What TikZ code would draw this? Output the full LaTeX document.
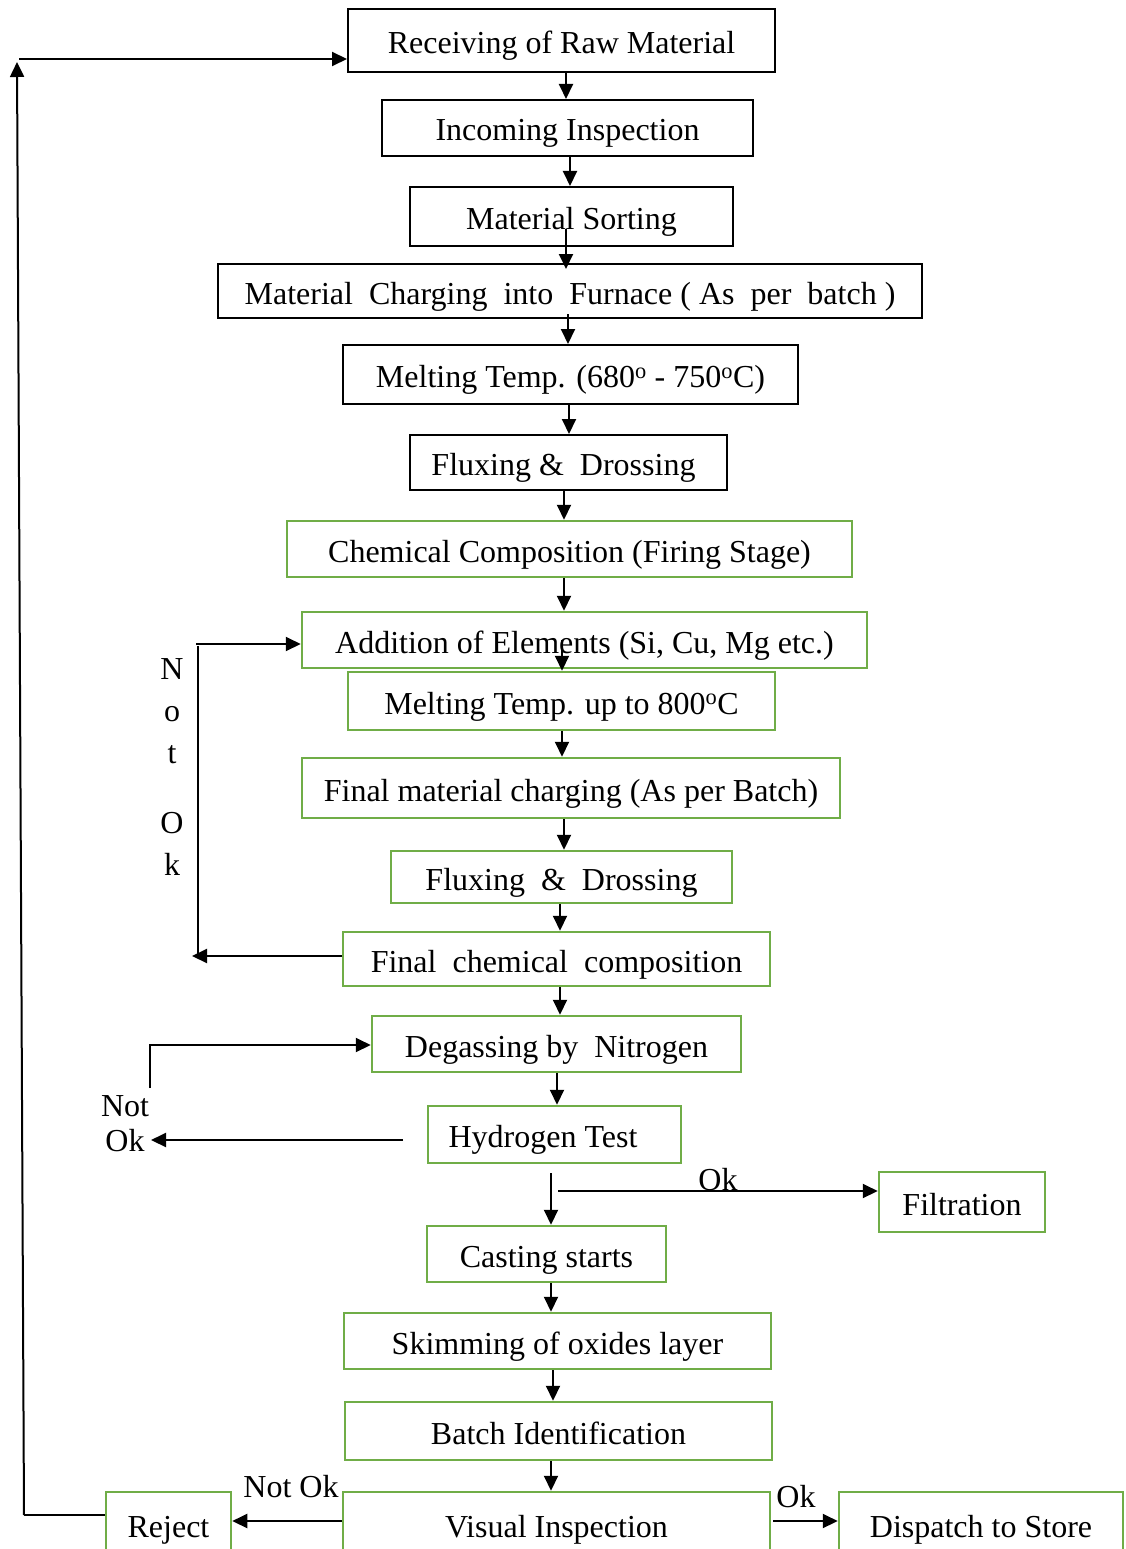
\documentclass[tikz,border=0pt]{standalone}
\usepackage{fontspec}
\setmainfont{Liberation Serif}
\usetikzlibrary{arrows.meta,calc}
\definecolor{boxgreen}{HTML}{70AD47}
\tikzset{
  base/.style={rectangle, inner sep=0pt, text height=30pt, text depth=4pt,
    font=\fontsize{32}{38}\selectfont},
  bk/.style={base, draw=black, line width=2pt},
  gr/.style={base, draw=boxgreen, line width=2.5pt},
  lbl/.style={inner sep=0pt, font=\fontsize{32}{38}\selectfont},
  arr/.style={line width=2pt, -{Triangle[length=15pt,width=14pt]}},
  ln/.style={line width=2pt}
}
\begin{document}
\begin{tikzpicture}[x=1pt,y=-1pt]
\useasboundingbox (0,0) rectangle (1125,1549);
% boxes
\node[bk, minimum width=427pt, minimum height=63pt] (recv) at (561.5,40.5) {Receiving of Raw Material};
\node[bk, minimum width=371pt, minimum height=56pt] (inc) at (567.5,128) {Incoming Inspection};
\node[bk, minimum width=323pt, minimum height=59pt] (sort) at (571.5,216.5) {Material Sorting};
\node[bk, minimum width=704pt, minimum height=54pt] (charge) at (570,291) {Material\ \ Charging\ \ into\ \ Furnace ( As\ \ per\ \ batch )};
\node[bk, minimum width=455pt, minimum height=59pt] (melt1) at (570.5,374.5) {Melting Temp. (680\textsuperscript{o} - 750\textsuperscript{o}C)};
\node[bk, minimum width=317pt, minimum height=55pt] (flux1) at (568.5,462.5) {Fluxing \&\ \ Drossing\hspace*{10pt}};
\node[gr, minimum width=565pt, minimum height=56pt] (chem) at (569.5,549) {Chemical Composition (Firing Stage)};
\node[gr, minimum width=565pt, minimum height=56pt] (add) at (584.5,640) {Addition of Elements (Si, Cu, Mg etc.)};
\node[gr, minimum width=427pt, minimum height=58pt] (melt2) at (561.5,701) {Melting Temp. up to 800\textsuperscript{o}C};
\node[gr, minimum width=538pt, minimum height=60pt] (final) at (571,788) {Final material charging (As per Batch)};
\node[gr, minimum width=341pt, minimum height=52pt] (flux2) at (561.5,877) {Fluxing\ \ \&\ \ Drossing};
\node[gr, minimum width=427pt, minimum height=54pt] (fchem) at (556.5,959) {Final\ \ chemical\ \ composition};
\node[gr, minimum width=369pt, minimum height=56pt] (degas) at (556.5,1044) {Degassing by\ \ Nitrogen};
\node[gr, minimum width=253pt, minimum height=57pt] (hyd) at (554.5,1134.5) {Hydrogen Test\hspace*{23pt}};
\node[gr, minimum width=166pt, minimum height=60pt] (filt) at (962,1202) {Filtration};
\node[gr, minimum width=239pt, minimum height=56pt] (cast) at (546.5,1254) {Casting starts};
\node[gr, minimum width=427pt, minimum height=56pt] (skim) at (557.5,1341) {Skimming of oxides layer};
\node[gr, minimum width=427pt, minimum height=58pt] (batch) at (558.5,1431) {Batch Identification};
\node[gr, minimum width=427pt, minimum height=64pt] (visual) at (556.5,1524) {Visual Inspection};
\node[gr, minimum width=125pt, minimum height=64pt] (reject) at (168.5,1524) {Reject};
\node[gr, minimum width=284pt, minimum height=64pt] (dispatch) at (981,1524) {Dispatch to Store};
% labels
\node[lbl, align=center, font=\fontsize{32}{42}\selectfont] (nok1) at (172,767) {N\\o\\t\\[28pt]O\\k};
\node[lbl] (nok2a) at (125,1106) {Not};
\node[lbl] (nok2b) at (125,1141) {Ok};
\node[lbl] (ok1) at (718,1180) {Ok};
\node[lbl] (nok3) at (291,1487) {Not Ok};
\node[lbl] (ok2) at (796,1497) {Ok};
% main vertical arrows
\draw[arr] (recv.south -| 566,0) -- (inc.north -| 566,0);
\draw[arr] (inc.south -| 570,0) -- (sort.north -| 570,0);
\draw[arr] ($(sort.south -| 566,0)+(0,-18)$) -- ($(charge.north -| 566,0)+(0,6)$);
\draw[arr] ($(charge.south -| 568,0)+(0,-5)$) -- (melt1.north -| 568,0);
\draw[arr] (melt1.south -| 569,0) -- (flux1.north -| 569,0);
\draw[arr] (flux1.south -| 564,0) -- (chem.north -| 564,0);
\draw[arr] (chem.south -| 564,0) -- (add.north -| 564,0);
\draw[arr] (add.center -| 562,0) -- (melt2.north -| 562,0);
\draw[arr] (melt2.south -| 562,0) -- (final.north -| 562,0);
\draw[arr] (final.south -| 564,0) -- (flux2.north -| 564,0);
\draw[arr] (flux2.south -| 560,0) -- (fchem.north -| 560,0);
\draw[arr] (fchem.south -| 560,0) -- (degas.north -| 560,0);
\draw[arr] (degas.south -| 557,0) -- (hyd.north -| 557,0);
\draw[arr] ($(hyd.south -| 551,0)+(0,9)$) -- (cast.north -| 551,0);
\draw[arr] (cast.south -| 551,0) -- (skim.north -| 551,0);
\draw[arr] (skim.south -| 553,0) -- (batch.north -| 553,0);
\draw[arr] (batch.south -| 551,0) -- (visual.north -| 551,0);
% side branches
\draw[arr] (558,1191) -- (filt.west |- 0,1191);
\draw[arr] (visual.west |- 0,1521) -- (reject.east |- 0,1521);
\draw[arr] ($(visual.east |- 0,1521)+(2,0)$) -- (dispatch.west |- 0,1521);
% reject loop back to receiving
\coordinate (lb) at (24,1515);
\coordinate (lt) at (17,62);
\draw[ln] (reject.west |- 0,1515) -- (lb);
\draw[arr] (lb) -- (lt);
\draw[arr] (19,59) -- (recv.west |- 0,59);
% not ok loop 1
\coordinate (n1t) at (198,646);
\coordinate (n1b) at (198,958);
\draw[ln] (n1t) -- (n1b);
\draw[arr] (196,644) -- (add.west |- 0,644);
\draw[arr] (fchem.west |- 0,956) -- (192,956);
% not ok loop 2
\coordinate (h1) at (403,1140);
\draw[arr] (h1) -- (151,1140);
\draw[arr] (150,1088) -- (150,1045) -- (degas.west |- 0,1045);
\end{tikzpicture}
\end{document}
